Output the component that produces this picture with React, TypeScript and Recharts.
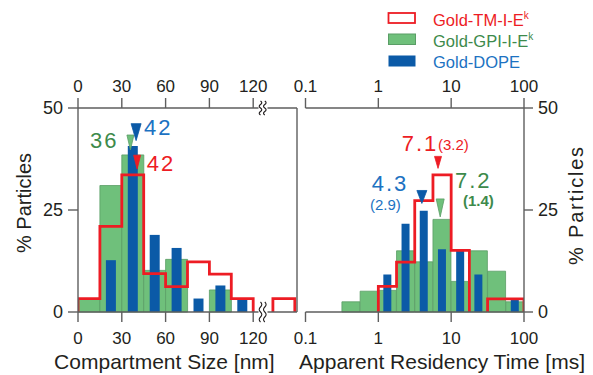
import React from 'react';
import { ComposedChart, Bar, Line, Scatter, XAxis, YAxis } from 'recharts';

// ---------------- Data: compartment size (nm), bins of 15 nm ----------------
const sizeBinCenters = [7.5, 22.5, 37.5, 52.5, 67.5, 82.5, 97.5, 112.5];
const sizeGpi = [3.3, 31, 38.5, 10.2, 12.9, null, 5.4, null];
const sizeDope = [null, 12.7, 40.7, 18.9, 15.7, 3.3, 6.5, 3.3];
// TM-I-E^k outline histogram (step edges, value of the following bin)
const sizeTmEdges = [0, 0, 15, 30, 45, 60, 75, 90, 105, 120, 120, 126, 133.5, 133.5, 148.5, 148.5];
const sizeTmValues = [0, 3.3, 21, 33.6, 9.4, 6.2, 12.3, 9.3, 3.3, 3.3, 0, null, 0, 3.3, 3.3, 0];
const sizeTicks = [0, 30, 60, 90, 120];
const sizeMedians = [
  { id: 'gpi', x: 35.9, y: 39.7, label: '36' },
  { id: 'dope', x: 39.8, y: 42, label: '42' },
  { id: 'tm', x: 40.5, y: 35, label: '42' },
];

// ---------------- Data: apparent residency time (ms), quarter-decade bins ----------------
const timeBinCenters = [0.4217, 0.7499, 1.3335, 2.3714, 4.217, 7.499, 13.335, 23.714, 42.17, 74.99];
const timeGpi = [2.5, 5.1, 5.3, 15, 12.3, 22.7, 7.5, 15, 10, 2.5];
const timeDope = [null, null, 9.2, 21.6, 24.8, 15.4, 15.4, 9.2, null, 3.1];
const timeTmEdges = [1, 1, 1.778, 3.162, 5.623, 10, 17.78, 17.78, 25, 31.62, 31.62, 100, 100];
const timeTmValues = [0, 6.3, 12.2, 27.3, 33.6, 15.1, 15.1, 0, null, 0, 3.2, 3.2, 0];
const timeTicks = [0.1, 1, 10, 100];
const timeMedians = [
  { id: 'tm', x: 6.6, y: 35.2, label: '7.1', sub: '(3.2)' },
  { id: 'dope', x: 3.96, y: 26.6, label: '4.3', sub: '(2.9)' },
  { id: 'gpi', x: 7.07, y: 23.3, label: '7.2', sub: '(1.4)' },
];

const yTicks = [0, 25, 50];
const legendLabels = ['Gold-TM-I-E', 'Gold-GPI-I-E', 'Gold-DOPE'];
const legendSup = ['k', 'k', ''];

// ---------------- Styles ----------------
const FONT = "'Liberation Sans', Arial, Helvetica, sans-serif";
const RED = '#ed1c24';
const GREEN = '#6fc07b';
const GREEN_EDGE = '#5a9d66';
const BLUE = '#0b5aa7';
const GREEN_TEXT = '#3d8a4b';
const BLUE_TEXT = '#1c72c2';
const AXIS = '#5e5e5e';
const INK = '#231f20';
const LINE_STYLE = { stroke: AXIS, strokeWidth: 1.4 };

const sizeRows = sizeBinCenters.map((x, i) => ({ x, gpi: sizeGpi[i], dope: sizeDope[i] }));
const sizeTmRows = sizeTmEdges.map((x, i) => ({ x, y: sizeTmValues[i] }));
const timeRows = timeBinCenters.map((x, i) => ({ x, gpi: timeGpi[i], dope: timeDope[i] }));
const timeTmRows = timeTmEdges.map((x, i) => ({ x, y: timeTmValues[i] }));

const colorOf: Record<string, { fill: string; stroke: string; text: string }> = {
  gpi: { fill: GREEN, stroke: GREEN_EDGE, text: GREEN_TEXT },
  dope: { fill: BLUE, stroke: BLUE, text: BLUE_TEXT },
  tm: { fill: RED, stroke: RED, text: RED },
};

const sizeMarkerStyle: Record<string, any> = {
  gpi: { w: 7, h: 15, dx: -40.4, dy: -2 },
  dope: { w: 10, h: 17, dx: 7.9, dy: -5.6 },
  tm: { w: 7, h: 14, dx: 9.6, dy: 1.8 },
};
const timeMarkerStyle: Record<string, any> = {
  tm: { w: 7, h: 12, dx: -36.3, dy: -16.9, sdx: 0, sdy: -18.7 },
  dope: { w: 10, h: 13, dx: -50.2, dy: -12, sdx: -51.9, sdy: 6.5 },
  gpi: { w: 8, h: 18, dx: 14.8, dy: -28.9, sdx: 22.8, sdy: -11.4 },
};

const makeMarker = (styles: Record<string, any>) => (props: any) => {
  const { cx, cy, payload } = props;
  if (cx == null || cy == null || !payload) return <g />;
  const s = styles[payload.id];
  const c = colorOf[payload.id];
  return (
    <g>
      <polygon
        points={`${cx - s.w / 2},${cy - s.h} ${cx + s.w / 2},${cy - s.h} ${cx},${cy}`}
        fill={c.fill}
        stroke={c.stroke}
        strokeWidth={0.8}
      />
      <text x={cx + s.dx} y={cy + s.dy} fill={c.text} fontSize={22} letterSpacing={2} fontFamily={FONT}>
        {payload.label}
      </text>
      {payload.sub ? (
        <text
          x={cx + s.sdx}
          y={cy + s.sdy}
          fill={c.text}
          fontSize={15}
          fontWeight={payload.id === 'gpi' ? 'bold' : 'normal'}
          fontFamily={FONT}
        >
          {payload.sub}
        </text>
      ) : null}
    </g>
  );
};

const wavy = (x: number, yc: number, h: number) => {
  const n = 4;
  const seg = h / n;
  let d = `M ${x} ${yc - h / 2}`;
  for (let i = 0; i < n; i++) {
    d += ` q ${i % 2 === 0 ? 2.6 : -2.6} ${seg / 2} 0 ${seg}`;
  }
  return d;
};

const tickStyleX = { fill: INK, fontSize: 17 };
const tickStyleY = { fill: INK, fontSize: 18 };

export default function App() {
  return (
    <div
      style={{
        position: 'absolute',
        left: 0,
        top: 0,
        width: 593,
        height: 375,
        background: '#ffffff',
        fontFamily: FONT,
        overflow: 'hidden',
      }}
    >
      {/* Left panel: compartment size */}
      <div style={{ position: 'absolute', left: 0, top: 0 }}>
        <ComposedChart
          width={300}
          height={375}
          data={sizeRows}
          margin={{ top: 78, right: 3, bottom: 33, left: 38 }}
          barCategoryGap={0}
          barGap={0}
        >
          <XAxis
            xAxisId="atop"
            orientation="top"
            type="number"
            dataKey="x"
            domain={[0, 150]}
            ticks={sizeTicks}
            interval={0}
            allowDataOverflow
            height={30}
            tickSize={10}
            tickMargin={6}
            stroke={AXIS}
            axisLine={LINE_STYLE}
            tickLine={LINE_STYLE}
            tick={tickStyleX}
          />
          <XAxis
            xAxisId="amain"
            orientation="bottom"
            type="number"
            dataKey="x"
            domain={[0, 150]}
            ticks={sizeTicks}
            interval={0}
            allowDataOverflow
            height={30}
            tickSize={10}
            tickMargin={10}
            stroke={AXIS}
            axisLine={LINE_STYLE}
            tickLine={LINE_STYLE}
            tick={tickStyleX}
          />
          <XAxis xAxisId="g" hide height={0} type="number" dataKey="x" domain={[0, 150]} allowDataOverflow />
          <XAxis xAxisId="r" hide height={0} type="number" dataKey="x" domain={[0, 150]} allowDataOverflow />
          <YAxis
            yAxisId="y"
            type="number"
            domain={[0, 50]}
            ticks={yTicks}
            interval={0}
            width={40}
            tickSize={10}
            tickMargin={5}
            stroke={AXIS}
            axisLine={LINE_STYLE}
            tickLine={LINE_STYLE}
            tick={tickStyleY}
          />
          <YAxis
            yAxisId="rb"
            orientation="right"
            type="number"
            dataKey="gpi"
            domain={[0, 50]}
            allowDataOverflow
            width={0}
            tick={false}
            tickLine={false}
            stroke={AXIS}
            axisLine={LINE_STYLE}
          />
          <Bar
            xAxisId="g"
            yAxisId="y"
            dataKey="gpi"
            fill={GREEN}
            stroke={GREEN_EDGE}
            strokeWidth={0.8}
            isAnimationActive={false}
          />
          <Bar xAxisId="amain" yAxisId="y" dataKey="dope" fill={BLUE} barSize={10} isAnimationActive={false} />
          <Line
            xAxisId="r"
            yAxisId="y"
            data={sizeTmRows}
            dataKey="y"
            type="stepAfter"
            stroke={RED}
            strokeWidth={2.8}
            dot={false}
            activeDot={false}
            connectNulls={false}
            isAnimationActive={false}
          />
          <Scatter
            xAxisId="r"
            yAxisId="y"
            data={sizeMedians}
            dataKey="y"
            shape={makeMarker(sizeMarkerStyle)}
            isAnimationActive={false}
          />
        </ComposedChart>
      </div>

      {/* Right panel: apparent residency time */}
      <div style={{ position: 'absolute', left: 270, top: 0 }}>
        <ComposedChart
          width={323}
          height={375}
          data={timeRows}
          margin={{ top: 78, right: 29, bottom: 33, left: 35.5 }}
          barCategoryGap={0}
          barGap={0}
        >
          <XAxis
            xAxisId="atop"
            orientation="top"
            type="number"
            scale="log"
            dataKey="x"
            domain={[0.1, 100]}
            ticks={timeTicks}
            interval={0}
            allowDataOverflow
            height={30}
            tickSize={10}
            tickMargin={6}
            stroke={AXIS}
            axisLine={LINE_STYLE}
            tickLine={LINE_STYLE}
            tick={tickStyleX}
            tickFormatter={(v: number) => String(v)}
          />
          <XAxis
            xAxisId="amain"
            orientation="bottom"
            type="number"
            scale="log"
            dataKey="x"
            domain={[0.1, 100]}
            ticks={timeTicks}
            interval={0}
            allowDataOverflow
            height={30}
            tickSize={10}
            tickMargin={10}
            stroke={AXIS}
            axisLine={LINE_STYLE}
            tickLine={LINE_STYLE}
            tick={tickStyleX}
            tickFormatter={(v: number) => String(v)}
          />
          <XAxis xAxisId="g" hide height={0} type="number" scale="log" dataKey="x" domain={[0.1, 100]} allowDataOverflow />
          <XAxis xAxisId="r" hide height={0} type="number" scale="log" dataKey="x" domain={[0.1, 100]} allowDataOverflow />
          <YAxis
            yAxisId="y"
            type="number"
            domain={[0, 50]}
            ticks={yTicks}
            interval={0}
            width={0}
            tickSize={9}
            tickMargin={0}
            stroke={AXIS}
            axisLine={LINE_STYLE}
            tickLine={LINE_STYLE}
            tick={tickStyleY}
            tickFormatter={() => ''}
          />
          <YAxis
            yAxisId="yr"
            orientation="right"
            type="number"
            dataKey="gpi"
            domain={[0, 50]}
            allowDataOverflow
            ticks={yTicks}
            interval={0}
            width={40}
            tickSize={9}
            tickMargin={5}
            stroke={AXIS}
            axisLine={LINE_STYLE}
            tickLine={LINE_STYLE}
            tick={tickStyleY}
          />
          <Bar
            xAxisId="g"
            yAxisId="y"
            dataKey="gpi"
            fill={GREEN}
            stroke={GREEN_EDGE}
            strokeWidth={0.8}
            isAnimationActive={false}
          />
          <Bar xAxisId="amain" yAxisId="y" dataKey="dope" fill={BLUE} barSize={8} isAnimationActive={false} />
          <Line
            xAxisId="r"
            yAxisId="y"
            data={timeTmRows}
            dataKey="y"
            type="stepAfter"
            stroke={RED}
            strokeWidth={2.8}
            dot={false}
            activeDot={false}
            connectNulls={false}
            isAnimationActive={false}
          />
          <Scatter
            xAxisId="r"
            yAxisId="y"
            data={timeMedians}
            dataKey="y"
            shape={makeMarker(timeMarkerStyle)}
            isAnimationActive={false}
          />
        </ComposedChart>
      </div>

      {/* Overlay: titles, legend, axis breaks */}
      <svg
        width={593}
        height={375}
        style={{ position: 'absolute', left: 0, top: 0, pointerEvents: 'none' }}
      >
        {/* left panel right border */}
        <line x1={297} y1={108} x2={297} y2={312} stroke={AXIS} strokeWidth={1.4} />

        {/* axis breaks */}
        <rect x={258.5} y={105} width={9} height={6} fill="#fff" />
        <rect x={258.5} y={309} width={9} height={6} fill="#fff" />
        <path d={wavy(260.5, 108, 14)} stroke={INK} strokeWidth={1.1} fill="none" />
        <path d={wavy(264.8, 108, 14)} stroke={INK} strokeWidth={1.1} fill="none" />
        <path d={wavy(260.5, 312, 20)} stroke={INK} strokeWidth={1.1} fill="none" />
        <path d={wavy(264.8, 312, 20)} stroke={INK} strokeWidth={1.1} fill="none" />

        {/* y-axis titles */}
        <text
          transform="translate(31,203) rotate(-90)"
          textAnchor="middle"
          fontSize={20}
          fill={INK}
          fontFamily={FONT}
        >
          % Particles
        </text>
        <text
          transform="translate(583,205) rotate(-90)"
          textAnchor="middle"
          fontSize={20}
          letterSpacing={1.8}
          fill={INK}
          fontFamily={FONT}
        >
          % Particles
        </text>

        {/* x-axis titles */}
        <text x={164.4} y={368.5} textAnchor="middle" fontSize={21} fill={INK} fontFamily={FONT}>
          Compartment Size [nm]
        </text>
        <text x={442} y={368.5} textAnchor="middle" fontSize={21} fill={INK} fontFamily={FONT}>
          Apparent Residency Time [ms]
        </text>

        {/* legend */}
        <rect x={388.5} y={13} width={26.5} height={10} fill="#fff" stroke={RED} strokeWidth={1.8} />
        <rect x={388.5} y={34} width={27} height={10.5} fill={GREEN} stroke={GREEN_EDGE} strokeWidth={1} />
        <rect x={388.5} y={55.5} width={27} height={11} fill={BLUE} />
        {legendLabels.map((t, i) => (
          <text
            key={t}
            x={433}
            y={26 + i * 21}
            fontSize={16.5}
            fill={[RED, GREEN_TEXT, BLUE_TEXT][i]}
            fontFamily={FONT}
          >
            {t}
            {legendSup[i] ? (
              <tspan fontSize={10} dy={-7}>
                {legendSup[i]}
              </tspan>
            ) : null}
          </text>
        ))}
      </svg>
    </div>
  );
}
